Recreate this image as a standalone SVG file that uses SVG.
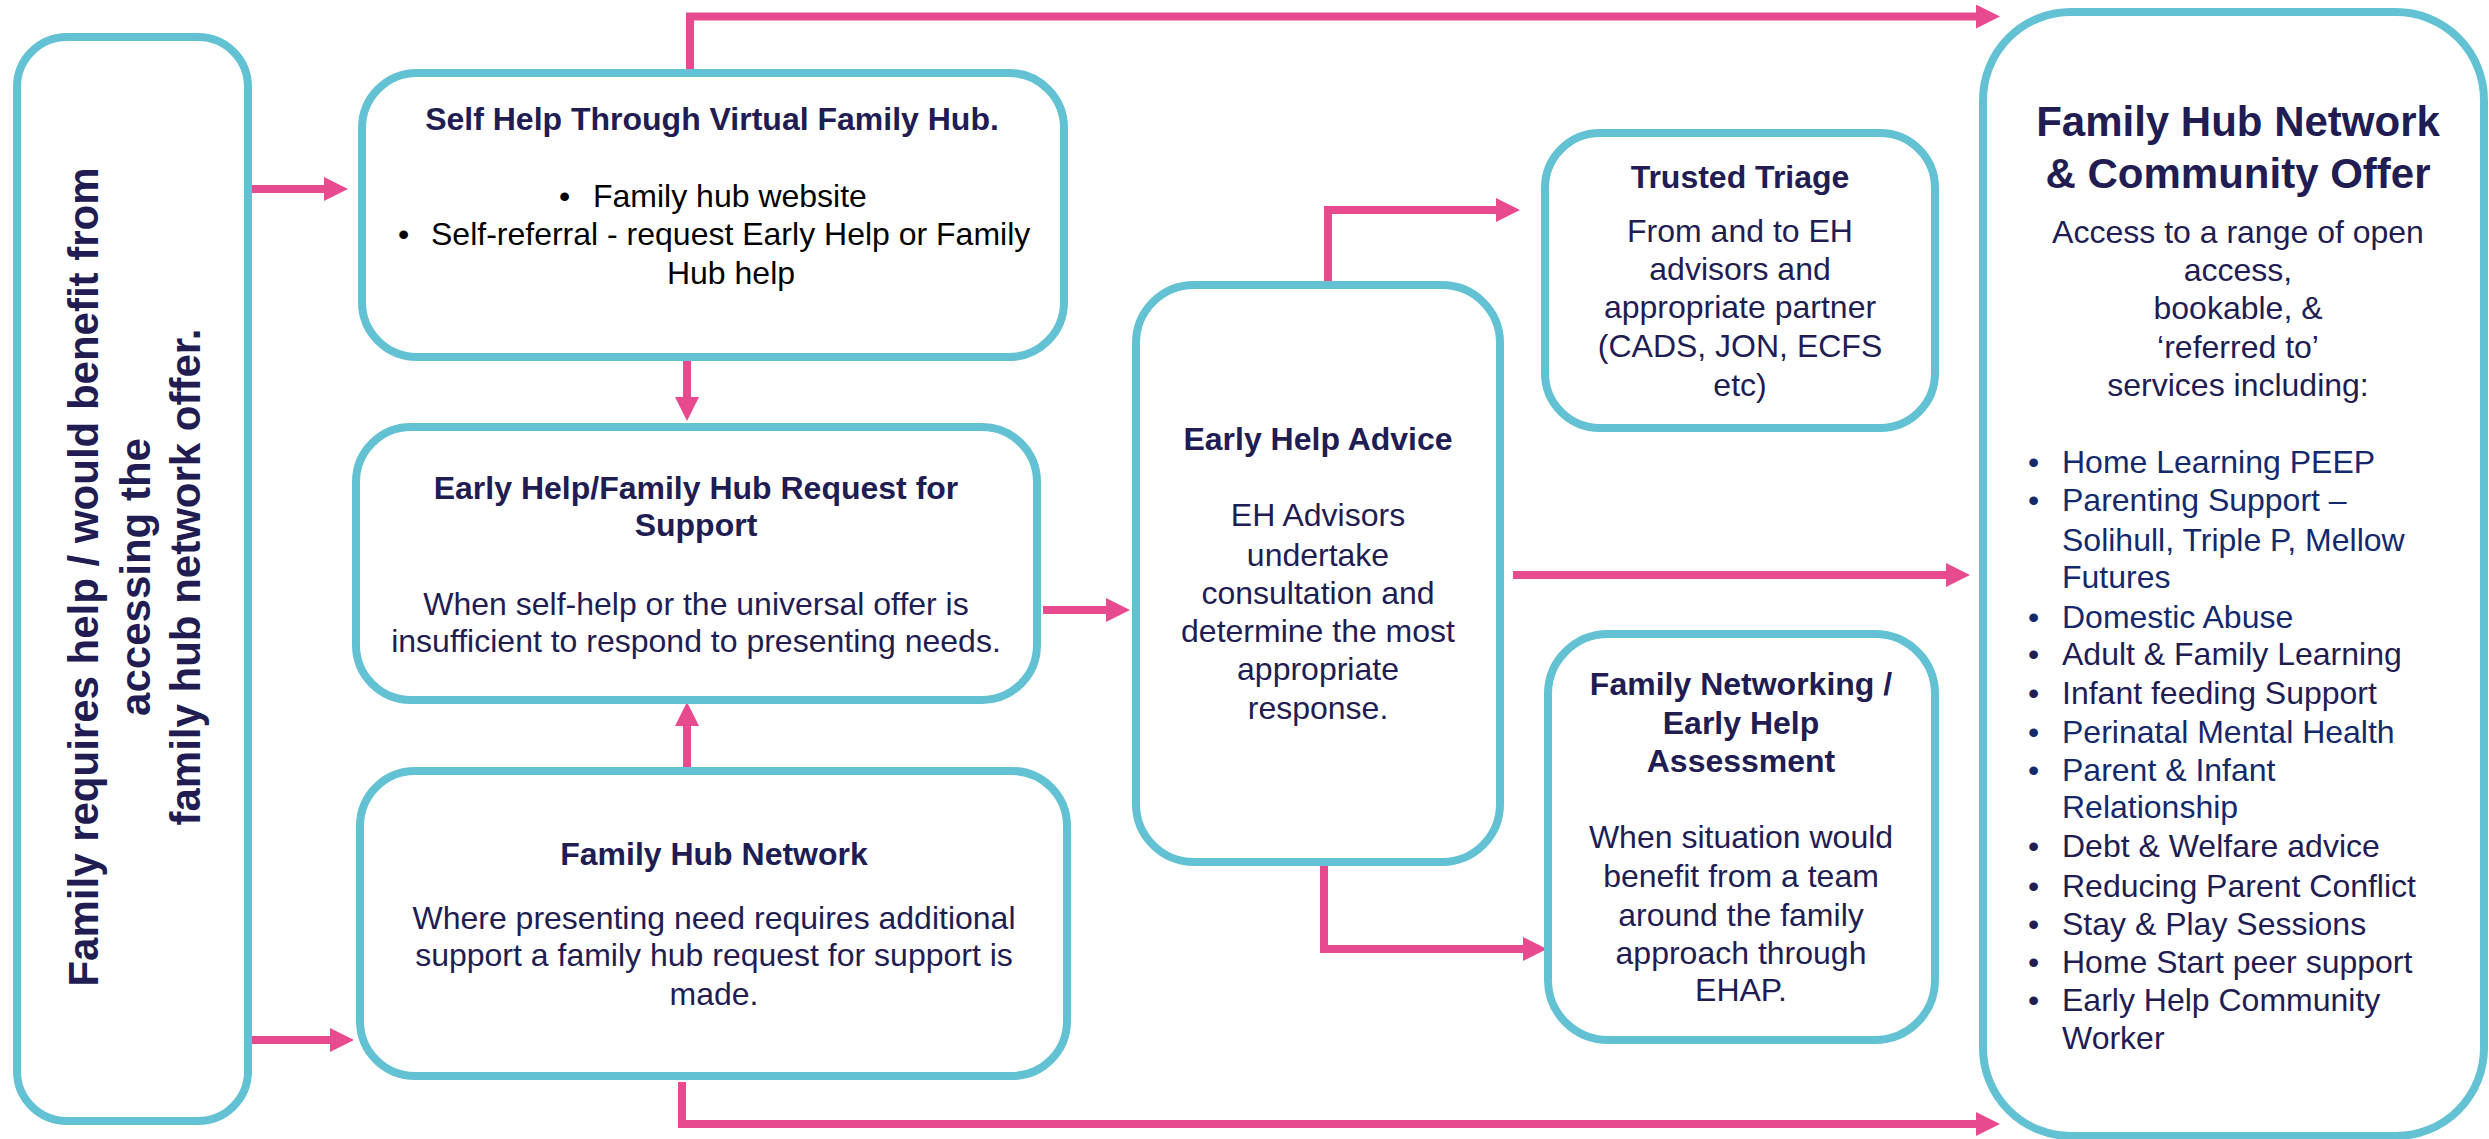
<svg xmlns="http://www.w3.org/2000/svg" width="2489" height="1139" viewBox="0 0 2489 1139">
<defs>
<style>
.box{fill:#ffffff;stroke:#62C2D3;stroke-width:8}
.con{fill:none;stroke:#E84A8F;stroke-width:8;marker-end:url(#ah)}
text{font-family:"Liberation Sans",Arial,sans-serif;fill:#211C52;font-size:32px}
.t{font-weight:bold;text-anchor:middle}
.c{text-anchor:middle}
.k{fill:#000000}
.b{fill:#13296B}
</style>
<marker id="ah" viewBox="0 0 24 24" markerUnits="userSpaceOnUse" markerWidth="24" markerHeight="24" refX="12" refY="12" orient="auto">
<path d="M0,0 L24,12 L0,24 z" fill="#E84A8F"/>
</marker>
</defs>
<rect width="2489" height="1139" fill="#ffffff"/>

<g id="connectors">
<path class="con" d="M249,189 H336"/>
<path class="con" d="M249,1040 H342"/>
<path class="con" d="M690,73 V16.5 H1988"/>
<path class="con" d="M687,357 V409"/>
<path class="con" d="M687,771 V714"/>
<path class="con" d="M1043,610 H1118"/>
<path class="con" d="M682,1082 V1124 H1988"/>
<path class="con" d="M1328,283 V210 H1508"/>
<path class="con" d="M1513,575 H1958"/>
<path class="con" d="M1324,865 V949 H1535"/>
</g>

<g id="family-requires">
<rect class="box" x="17" y="37" width="231" height="1084" rx="50"/>
<text class="t" font-size="42" style="font-size:42px" transform="translate(98,577) rotate(-90)">Family requires help / would benefit from</text>
<text class="t" style="font-size:42px" transform="translate(150,577) rotate(-90)">accessing the</text>
<text class="t" style="font-size:42px" transform="translate(200,577) rotate(-90)">family hub network offer.</text>
</g>

<g id="self-help">
<rect class="box" x="362" y="73" width="702" height="284" rx="55"/>
<text class="t" x="712" y="130">Self Help Through Virtual Family Hub.</text>
<text class="k" x="559" y="207">•</text>
<text class="k" x="593" y="207">Family hub website</text>
<text class="k" x="398" y="245">•</text>
<text class="k" x="431" y="245">Self-referral - request Early Help or Family</text>
<text class="k c" x="731" y="284">Hub help</text>
</g>

<g id="request-support">
<rect class="box" x="356" y="427" width="681" height="273" rx="55"/>
<text class="t" x="696" y="499">Early Help/Family Hub Request for</text>
<text class="t" x="696" y="536">Support</text>
<text class="c" x="696" y="615">When self-help or the universal offer is</text>
<text class="c" x="696" y="652">insufficient to respond to presenting needs.</text>
</g>

<g id="family-hub-network">
<rect class="box" x="360" y="771" width="707" height="305" rx="55"/>
<text class="t" x="714" y="865">Family Hub Network</text>
<text class="c" x="714" y="929">Where presenting need requires additional</text>
<text class="c" x="714" y="966">support a family hub request for support is</text>
<text class="c" x="714" y="1005">made.</text>
</g>

<g id="early-help-advice">
<rect class="box" x="1136" y="285" width="364" height="577" rx="58"/>
<text class="t" x="1318" y="450">Early Help Advice</text>
<text class="c" x="1318" y="526">EH Advisors</text>
<text class="c" x="1318" y="566">undertake</text>
<text class="c" x="1318" y="604">consultation and</text>
<text class="c" x="1318" y="642">determine the most</text>
<text class="c" x="1318" y="680">appropriate</text>
<text class="c" x="1318" y="719">response.</text>
</g>

<g id="trusted-triage">
<rect class="box" x="1545" y="133" width="390" height="295" rx="55"/>
<text class="t" x="1740" y="188">Trusted Triage</text>
<text class="c" x="1740" y="242">From and to EH</text>
<text class="c" x="1740" y="280">advisors and</text>
<text class="c" x="1740" y="318">appropriate partner</text>
<text class="c" x="1740" y="357">(CADS, JON, ECFS</text>
<text class="c" x="1740" y="396">etc)</text>
</g>

<g id="family-networking">
<rect class="box" x="1548" y="634" width="387" height="406" rx="60"/>
<text class="t" x="1741" y="695">Family Networking /</text>
<text class="t" x="1741" y="734">Early Help</text>
<text class="t" x="1741" y="772">Assessment</text>
<text class="c" x="1741" y="848">When situation would</text>
<text class="c" x="1741" y="887">benefit from a team</text>
<text class="c" x="1741" y="926">around the family</text>
<text class="c" x="1741" y="964">approach through</text>
<text class="c" x="1741" y="1001">EHAP.</text>
</g>

<g id="community-offer">
<rect class="box" x="1983" y="12" width="501" height="1124" rx="88"/>
<text class="t" style="font-size:42px" x="2238" y="136">Family Hub Network</text>
<text class="t" style="font-size:42px" x="2238" y="188">&amp; Community Offer</text>
<text class="c" x="2238" y="243">Access to a range of open</text>
<text class="c" x="2238" y="281">access,</text>
<text class="c" x="2238" y="319">bookable, &amp;</text>
<text class="c" x="2238" y="358">‘referred to’</text>
<text class="c" x="2238" y="396">services including:</text>
<g class="b">
<text class="b" x="2028" y="473">•</text><text class="b" x="2062" y="473">Home Learning PEEP</text>
<text class="b" x="2028" y="511">•</text><text class="b" x="2062" y="511">Parenting Support –</text>
<text class="b" x="2062" y="551">Solihull, Triple P, Mellow</text>
<text class="b" x="2062" y="588">Futures</text>
<text class="b" x="2028" y="628">•</text><text class="b" x="2062" y="628">Domestic Abuse</text>
</g>
<text x="2028" y="665">•</text><text x="2062" y="665">Adult &amp; Family Learning</text>
<text x="2028" y="704">•</text><text x="2062" y="704">Infant feeding Support</text>
<text class="b" x="2028" y="743">•</text><text class="b" x="2062" y="743">Perinatal Mental Health</text>
<text class="b" x="2028" y="781">•</text><text class="b" x="2062" y="781">Parent &amp; Infant</text>
<text class="b" x="2062" y="818">Relationship</text>
<text x="2028" y="857">•</text><text x="2062" y="857">Debt &amp; Welfare advice</text>
<text x="2028" y="897">•</text><text x="2062" y="897">Reducing Parent Conflict</text>
<text x="2028" y="935">•</text><text x="2062" y="935">Stay &amp; Play Sessions</text>
<text x="2028" y="973">•</text><text x="2062" y="973">Home Start peer support</text>
<text x="2028" y="1011">•</text><text x="2062" y="1011">Early Help Community</text>
<text x="2062" y="1049">Worker</text>
</g>
</svg>
